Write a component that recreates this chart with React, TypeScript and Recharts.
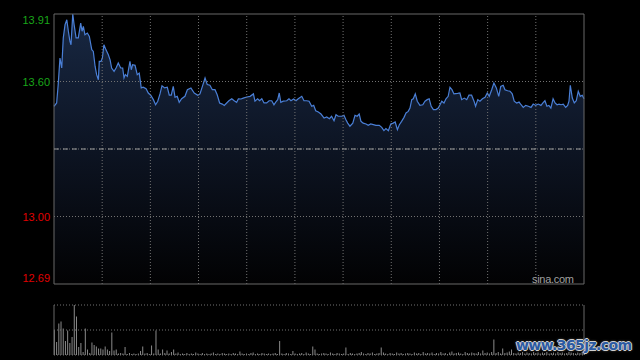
import React from "react";
import {
  AreaChart,
  Area,
  BarChart,
  Bar,
  XAxis,
  YAxis,
  ReferenceLine,
} from "recharts";

// intraday price, minutes since open
const minutes = [
  0, 1.2, 1.9, 2.7, 3.5, 4.2, 5.0, 5.8, 6.5, 7.2, 7.7, 8.5, 9.1, 10.0, 11.0, 12.1, 12.7, 13.3, 14.0, 15.1,
  16.0, 17.1, 17.8, 18.6, 19.3, 20.1, 20.5, 21.3, 21.9, 22.6, 23.5, 24.6, 25.4, 26.1, 27.2, 28.1, 29.1, 30.2, 31.1, 31.7,
  32.3, 33.2, 34.4, 35.0, 35.6, 36.7, 37.7, 38.6, 39.5, 40.4, 41.7, 42.7, 43.8, 45.0, 46.0, 47.0, 48.0, 48.9, 50.1, 51.3,
  52.2, 53.1, 54.0, 54.8, 55.8, 56.7, 57.8, 59.3, 60.4,
  62.0, 63.5, 65.1, 66.1, 67.2, 68.4, 69.4, 70.6, 71.7, 72.9, 73.9, 75.0, 76.2, 77.1, 78.2, 79.2, 80.5, 81.6, 82.7, 83.5,
  84.7, 85.7, 87.3, 88.8, 90.3, 91.0, 92.2, 93.1, 94.1, 95.1, 96.3, 97.4, 98.6, 99.6, 100.4, 101.3, 102.0, 102.7, 103.8, 105.4,
  106.4, 107.3, 108.5, 109.6, 110.6, 112.2, 113.2, 114.4, 115.5, 116.7, 117.6, 118.5, 119.7, 120.9, 122.3,
  123.5, 124.7, 125.7, 126.8, 127.7, 128.7, 130.3, 131.3, 132.2, 133.0, 134.0, 135.3, 136.3, 137.3, 138.2, 139.0, 140.0, 141.3, 142.3, 143.4,
  144.6, 145.8, 147.3, 148.4, 149.4, 150.3, 151.4, 152.5, 153.6, 154.5, 155.5, 156.4, 157.4, 158.5, 159.4, 160.4, 161.2, 162.0, 162.7, 163.6,
  164.5, 165.7, 167.0, 168.0, 169.0, 169.9, 170.8, 171.8, 173.0, 174.0, 174.8, 175.6, 176.6, 177.5, 178.5, 179.3, 180.2, 181.1,
  182.8, 183.8, 184.6, 185.8, 186.9, 187.9, 189.1, 190.2, 190.9, 191.9, 192.9, 194.0, 195.2, 196.2, 197.1, 198.2, 199.2, 200.3, 201.4, 202.3,
  203.4, 204.2, 205.4, 206.5, 207.5, 208.4, 209.5, 210.6, 211.5, 212.5, 213.6, 214.8, 216.0, 217.0, 218.1, 219.3, 220.5, 221.4, 222.3, 223.2,
  224.1, 225.0, 226.0, 226.9, 227.8, 228.7, 229.6, 230.6, 231.7, 232.6, 233.2, 233.8, 234.7, 235.6, 236.5, 237.4, 238.3, 239.2, 240,
];

const prices = [
  13.493, 13.508, 13.591, 13.711, 13.666, 13.802, 13.862, 13.884, 13.832, 13.787, 13.771, 13.91, 13.862, 13.802, 13.802, 13.869, 13.832, 13.854, 13.816, 13.824,
  13.809, 13.749, 13.741, 13.674, 13.636, 13.613, 13.696, 13.696, 13.711, 13.771, 13.749, 13.726, 13.703, 13.666, 13.651, 13.666, 13.689, 13.666, 13.666, 13.621,
  13.636, 13.628, 13.696, 13.658, 13.681, 13.678, 13.636, 13.643, 13.576, 13.579, 13.572, 13.553, 13.543, 13.523, 13.5, 13.516, 13.549, 13.586, 13.576, 13.579,
  13.543, 13.543, 13.583, 13.534, 13.538, 13.511, 13.527, 13.538, 13.568,
  13.576, 13.553, 13.543, 13.549, 13.583, 13.621, 13.591, 13.588, 13.568, 13.568, 13.545, 13.508, 13.503, 13.497, 13.508, 13.518, 13.527, 13.518, 13.511, 13.527,
  13.526, 13.53, 13.535, 13.538, 13.549, 13.516, 13.527, 13.518, 13.527, 13.508, 13.508, 13.518, 13.518, 13.5, 13.512, 13.523, 13.553, 13.511, 13.516, 13.518,
  13.527, 13.518, 13.526, 13.518, 13.527, 13.538, 13.518, 13.518, 13.516, 13.493, 13.497, 13.473, 13.467, 13.458, 13.44,
  13.445, 13.437, 13.448, 13.428, 13.455, 13.448, 13.448, 13.452, 13.432, 13.417, 13.403, 13.417, 13.452, 13.448, 13.458, 13.425, 13.417, 13.413, 13.407, 13.413,
  13.41, 13.407, 13.407, 13.398, 13.383, 13.392, 13.383, 13.413, 13.417, 13.422, 13.387, 13.41, 13.425, 13.443, 13.463, 13.47, 13.485, 13.523, 13.527, 13.549,
  13.516, 13.497, 13.5, 13.516, 13.523, 13.527, 13.493, 13.478, 13.478, 13.485, 13.5, 13.516, 13.508, 13.527, 13.538, 13.579, 13.568, 13.549,
  13.551, 13.553, 13.523, 13.53, 13.523, 13.543, 13.543, 13.516, 13.493, 13.523, 13.516, 13.527, 13.534, 13.553, 13.538, 13.568, 13.598, 13.576, 13.538, 13.583,
  13.588, 13.568, 13.563, 13.561, 13.549, 13.516, 13.508, 13.512, 13.5, 13.488, 13.497, 13.493, 13.488, 13.503, 13.497, 13.503, 13.497, 13.508, 13.518, 13.493,
  13.497, 13.485, 13.527, 13.508, 13.5, 13.503, 13.5, 13.503, 13.488, 13.497, 13.516, 13.588, 13.53, 13.508, 13.518, 13.561, 13.538, 13.543, 13.527,
];

// volume per minute, relative to the busiest minute
const volumes = [
  50, 26, 63, 67, 53, 28, 49, 24, 36, 100,
  77, 16, 24, 6, 53, 11, 4, 25, 20, 17,
  13, 13, 11, 17, 11, 8, 45, 9, 11, 3,
  4, 3, 16, 2, 4, 2, 3, 2, 3, 8,
  17, 3, 4, 2, 19, 3, 49, 11, 3, 11,
  4, 9, 3, 6, 11, 3, 5, 2, 3, 2,
  4, 2, 3, 2, 5, 3, 2, 4, 2, 3,
  2, 3, 5, 2, 3, 2, 4, 3, 2, 3,
  2, 4, 3, 2, 7, 3, 2, 3, 2, 4,
  5, 2, 3, 2, 4, 3, 2, 3, 2, 3,
  4, 2, 28, 3, 2, 4, 3, 2, 8, 3,
  2, 3, 4, 2, 5, 3, 2, 17, 11, 3,
  2, 3, 4, 3, 2, 5, 3, 2, 4, 3,
  2, 3, 15, 2, 4, 3, 2, 3, 4, 6,
  3, 2, 4, 3, 5, 2, 3, 4, 15, 5,
  3, 2, 4, 3, 2, 5, 3, 4, 2, 3,
  4, 3, 2, 5, 3, 4, 2, 6, 3, 4,
  3, 5, 2, 4, 3, 6, 3, 4, 2, 5,
  7, 3, 4, 5, 3, 2, 6, 4, 3, 5,
  4, 3, 6, 3, 9, 4, 5, 3, 6, 31,
  4, 6, 3, 13, 4, 5, 7, 11, 4, 3,
  5, 4, 6, 3, 5, 4, 3, 6, 4, 5,
  3, 5, 4, 6, 3, 4, 5, 3, 6, 4,
  5, 3, 4, 6, 5, 4, 3, 5, 4, 6,
  5,
];

const preClose = 13.3;
const priceTicks = [13.91, 13.605, 13.3, 12.995, 12.69];
const priceLabels = ["13.91", "13.60", "", "13.00", "12.69"];
const pctLabels = ["+4.55%", "+2.28%", "", "-2.28%", "-4.55%"];

const UP = "#19a619";
const DOWN = "#e00000";
const GRID = "#727272";
const BORDER = "#686868";
const LINE = "#4a7fd6";

const priceData = minutes.map((t, i) => ({ t, p: prices[i] }));
const volumeData = volumes.map((v, i) => ({ t: i, v }));
const gridMinutes = Array.from({ length: 10 }, (_, i) => ((i + 1) * 240) / 11);

function AxisTick(props: any) {
  const { x, y, payload, labels, anchor } = props;
  const idx = priceTicks.findIndex((v) => Math.abs(v - payload.value) < 1e-6);
  const label = labels[idx];
  if (!label) return <g />;
  const dy = idx === 0 ? 6 : idx === priceTicks.length - 1 ? -6 : 0;
  return (
    <text
      x={x}
      y={y + dy}
      textAnchor={anchor}
      dominantBaseline="central"
      fill={payload.value > preClose ? UP : DOWN}
      fontSize={11}
      fontFamily="Liberation Sans, Arial, sans-serif"
    >
      {label}
    </text>
  );
}

export default function App() {
  return (
    <div
      style={{
        position: "absolute",
        left: 0,
        top: 0,
        width: 640,
        height: 360,
        background: "#000",
        overflow: "hidden",
        fontFamily: "Liberation Sans, Arial, sans-serif",
      }}
    >
      <div style={{ position: "absolute", left: 0, top: 0 }}>
        <AreaChart width={640} height={290} data={priceData} margin={{ top: 14, right: 0, bottom: 6, left: 0 }}>
          <defs>
            <linearGradient id="priceFill" x1="0" y1="0" x2="0" y2="1">
              <stop offset="0%" stopColor="#182843" />
              <stop offset="45%" stopColor="#0e1626" />
              <stop offset="100%" stopColor="#020203" />
            </linearGradient>
          </defs>
          <XAxis type="number" dataKey="t" domain={[0, 240]} hide />
          <YAxis
            domain={[12.69, 13.91]}
            ticks={priceTicks}
            interval={0}
            width={54}
            axisLine={false}
            tickLine={false}
            tickSize={0}
            tickMargin={4}
            tick={(p: any) => <AxisTick {...p} labels={priceLabels} anchor="end" />}
          />
          <YAxis
            yAxisId="pct"
            orientation="right"
            domain={[12.69, 13.91]}
            ticks={priceTicks}
            interval={0}
            width={56}
            axisLine={false}
            tickLine={false}
            tickSize={0}
            tickMargin={6}
            tick={(p: any) => <AxisTick {...p} labels={pctLabels} anchor="start" />}
          />
          <Area
            type="linear"
            dataKey="p"
            stroke={LINE}
            strokeWidth={1.2}
            fill="url(#priceFill)"
            fillOpacity={1}
            dot={false}
            activeDot={false}
            isAnimationActive={false}
          />
          {gridMinutes.map((m) => (
            <ReferenceLine key={m} x={m} stroke={GRID} strokeDasharray="1 2" />
          ))}
          <ReferenceLine y={13.605} stroke={GRID} strokeDasharray="1 2" />
          <ReferenceLine y={12.995} stroke={GRID} strokeDasharray="1 2" />
          <ReferenceLine y={preClose} stroke={GRID} strokeDasharray="1 2" />
          <ReferenceLine y={preClose} stroke="#9a9a9a" strokeDasharray="5 4" />
          <ReferenceLine y={13.91} stroke={BORDER} />
          <ReferenceLine y={12.69} stroke={BORDER} />
          <ReferenceLine x={0} stroke={BORDER} />
          <ReferenceLine x={240} stroke={BORDER} />
        </AreaChart>
      </div>

      <div style={{ position: "absolute", left: 0, top: 290 }}>
        <BarChart width={640} height={70} data={volumeData} margin={{ top: 15, right: 56, bottom: 5, left: 54 }}>
          <XAxis type="number" dataKey="t" domain={[0, 240]} hide />
          <YAxis domain={[0, 100]} hide />
          <Bar dataKey="v" fill="#8a8a8a" barSize={1} isAnimationActive={false} />
          <ReferenceLine y={100} stroke={GRID} strokeDasharray="1 2" />
          <ReferenceLine y={50} stroke={GRID} strokeDasharray="1 2" />
          <ReferenceLine y={0} stroke={GRID} strokeDasharray="1 2" />
          <ReferenceLine x={0} stroke={BORDER} />
          <ReferenceLine x={240} stroke={BORDER} />
        </BarChart>
      </div>

      <div
        style={{
          position: "absolute",
          left: 532,
          top: 273,
          fontSize: 11,
          color: "#a0a0a0",
          letterSpacing: -0.3,
        }}
      >
        sina.com
      </div>
      <div
        style={{
          position: "absolute",
          left: 516,
          top: 337,
          fontSize: 14,
          letterSpacing: -0.6,
          fontWeight: "bold",
          fontFamily: "DejaVu Sans, sans-serif",
          color: "#2b5aa3",
          textShadow:
            "1px 0 0 #cfcfcf, -1px 0 0 #cfcfcf, 0 1px 0 #cfcfcf, 0 -1px 0 #cfcfcf, 0 0 3px #9a9a9a",
        }}
      >
        www.365jz.com
      </div>
    </div>
  );
}
